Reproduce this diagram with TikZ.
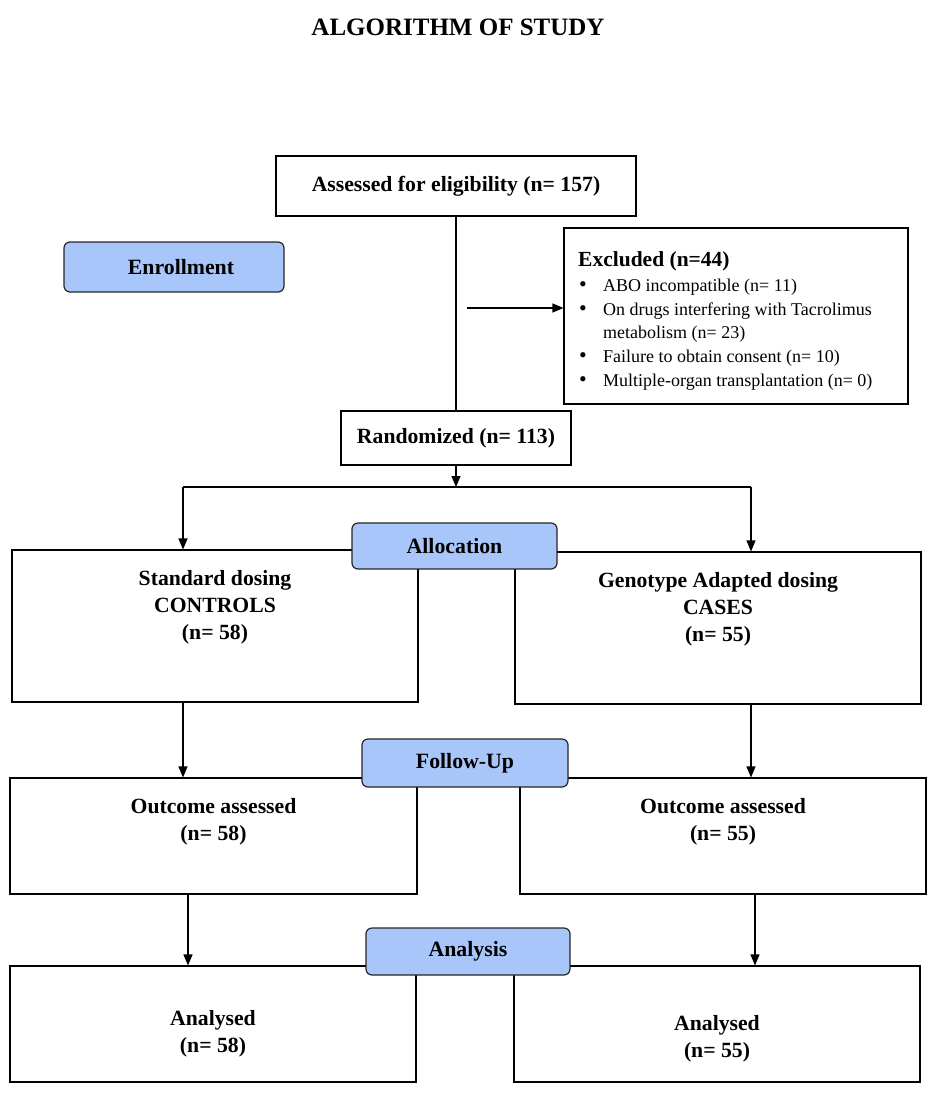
\documentclass[tikz,border=0pt]{standalone}
\usepackage{fontspec}
\setmainfont{Liberation Serif}
\usetikzlibrary{arrows.meta}
\definecolor{phase}{HTML}{A8C6FA}
\begin{document}
\begin{tikzpicture}[x=1pt,y=-1pt,
  box/.style={draw=black,line width=1.1pt,inner sep=0pt,fill=white},
  phasebox/.style={draw=black!85,line width=1.2pt,rounded corners=6pt,fill=phase,inner sep=0pt},
  ptext/.style={inner sep=0pt,font=\fontsize{21.8}{25}\selectfont\bfseries},
  btext/.style={align=center,inner sep=0pt,font=\fontsize{21.7}{27}\selectfont\bfseries},
  conn/.style={line width=1.1pt},
  arr/.style={line width=1.1pt,-{Triangle[length=11pt,width=9pt]}}]
\useasboundingbox (0,0) rectangle (939,1094);
% title
\node[inner sep=0pt,font=\fontsize{25}{28}\selectfont\bfseries] (title) at (458,27) {ALGORITHM OF STUDY};
% boxes
\node[box,minimum width=360pt,minimum height=60pt,font=\fontsize{21.7}{25}\selectfont\bfseries] (assessed) at (456,186) {Assessed for eligibility (n= 157)};
\node[box,minimum width=344pt,minimum height=176pt] (excl) at (736,316) {};
\node[inner sep=0pt,anchor=north west,align=left] (excltext) at (578,251) {%
  {\fontsize{21.5}{25}\selectfont\bfseries Excluded (n=44)}\\[3pt]
  \fontsize{18}{23.75}\selectfont
  \begin{tabular}{@{}p{25pt}@{}l@{}}
  \hspace{1pt}{\fontsize{22}{22}\selectfont\textbullet} & ABO incompatible (n= 11)\\
  \hspace{1pt}{\fontsize{22}{22}\selectfont\textbullet} & On drugs interfering with Tacrolimus\\
   & metabolism (n= 23)\\
  \hspace{1pt}{\fontsize{22}{22}\selectfont\textbullet} & Failure to obtain consent (n= 10)\\
  \hspace{1pt}{\fontsize{22}{22}\selectfont\textbullet} & Multiple-organ transplantation (n= 0)
  \end{tabular}};
\node[phasebox,minimum width=220pt,minimum height=50pt] (enroll) at (174,267) {};
\node[ptext] (enrollT) at (181,267) {Enrollment};
\node[box,minimum width=230pt,minimum height=54pt,font=\fontsize{21.7}{25}\selectfont\bfseries] (rand) at (456,438) {Randomized (n= 113)};
\node[box,minimum width=406pt,minimum height=152pt] (std) at (215,626) {};
\node[btext] (stdT) at (215,607) {Standard dosing\\CONTROLS\\(n= 58)};
\node[box,minimum width=406pt,minimum height=152pt] (gen) at (718,628) {};
\node[btext] (genT) at (718,609) {Genotype Adapted dosing\\CASES\\(n= 55)};
\node[phasebox,minimum width=205pt,minimum height=46pt] (alloc) at (454.5,546) {};
\node[ptext] (allocT) at (454.5,546) {Allocation};
\node[box,minimum width=407pt,minimum height=116pt] (outL) at (213.5,836) {};
\node[btext] (outLT) at (213.5,822) {Outcome assessed\\(n= 58)};
\node[box,minimum width=406pt,minimum height=116pt] (outR) at (723,836) {};
\node[btext] (outRT) at (723,822) {Outcome assessed\\(n= 55)};
\node[phasebox,minimum width=206pt,minimum height=48pt] (follow) at (465,763) {};
\node[ptext] (followT) at (465,763) {Follow-Up};
\node[box,minimum width=406pt,minimum height=116pt] (anL) at (213,1024) {};
\node[btext] (anLT) at (213,1033.5) {Analysed\\(n= 58)};
\node[box,minimum width=406pt,minimum height=116pt] (anR) at (717,1024) {};
\node[btext] (anRT) at (717,1038.5) {Analysed\\(n= 55)};
\node[phasebox,minimum width=204pt,minimum height=47pt] (analysis) at (468,951.5) {};
\node[ptext] (analysisT) at (468,951.5) {Analysis};
% connectors
\coordinate (exclstart) at (467,308);
\coordinate (split) at (456,487);
\coordinate (splitL) at (183,487);
\coordinate (splitR) at (751,487);
\coordinate (fL) at (183,702);
\coordinate (fR) at (751,704);
\coordinate (aL) at (188,894);
\coordinate (aR) at (755,894);
\draw[conn] (assessed.south) -- (rand.north);
\draw[arr] (exclstart) -- (exclstart -| excl.west);
\draw[arr] (rand.south) -- (split);
\draw[conn] (splitL) -- (splitR);
\draw[arr] (splitL) -- (splitL |- std.north);
\draw[arr] (splitR) -- (splitR |- gen.north);
\draw[arr] (fL) -- (fL |- outL.north);
\draw[arr] (fR) -- (fR |- outR.north);
\draw[arr] (aL) -- (aL |- anL.north);
\draw[arr] (aR) -- (aR |- anR.north);
\end{tikzpicture}
\end{document}
